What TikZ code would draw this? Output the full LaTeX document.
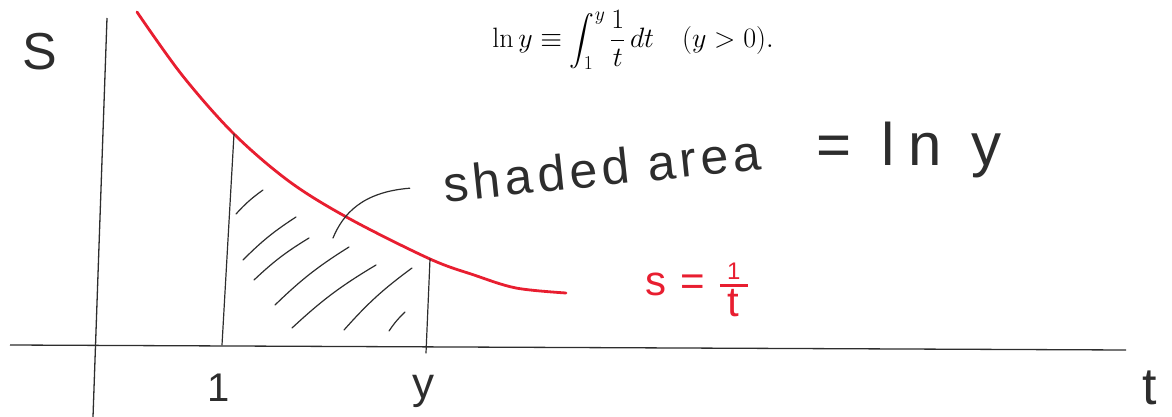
\RequirePackage{fix-cm}
\documentclass[tikz,border=0pt]{standalone}
\usepackage{exscale}
\usepackage[no-math]{fontspec}
\setmainfont{Liberation Sans}
\definecolor{penred}{RGB}{232,30,48}
\definecolor{penblack}{RGB}{45,45,45}
\tikzset{
  axis/.style={draw=penblack,line width=1.3pt},
  hatch/.style={draw=penblack,line width=1.2pt,line cap=round},
  curve/.style={draw=penred,line width=2.8pt,line cap=round},
  hand/.style={text=penblack,inner sep=0pt}
}
\begin{document}
\begin{tikzpicture}[x=1pt,y=-1pt]
				\useasboundingbox (0,0) rectangle (1172,417);
				%Truc
				\coordinate (sTop) at (107,18);
				\coordinate (sBot) at (93,417);
				\coordinate (tLeft) at (10,345);
				\coordinate (tRight) at (1126,350);
				\draw[axis] (sTop)--(sBot);
				\draw[axis] (tLeft)--(tRight);
				%Nhan truc
				\node[hand,font=\fontsize{52}{60}\selectfont] (sLabel) at (40,52) {S};
				\node[hand,font=\fontsize{52}{56}\selectfont] (tLabel) at (1150,388) {t};
				\node[hand,font=\fontsize{40}{48}\selectfont] (oneLabel) at (219,388) {1};
				\node[hand,font=\fontsize{44}{50}\selectfont] (yLabel) at (423,391) {y};
				%Cong thuc
				\node (lnDef) at (633,40) {\fontsize{28}{33}\selectfont $\displaystyle \ln y\equiv\int_1^y\frac{1}{t}\,dt\quad(y>0).$};
				%Duong cong
				\coordinate (oneTop) at (234,134);
				\coordinate (yTop) at (430,259);
				\draw[curve] plot[smooth,tension=0.55] coordinates {(137,12) (182,75) (oneTop) (290,182) (350,219) (yTop) (474,275) (516,288) (566,293)};
				\node[hand,text=penred,font=\fontsize{42}{48}\selectfont] (curveLabel) at (697,290) {s\hspace{14pt}=\hspace{14pt}${\mbox{\fontsize{24}{26}\selectfont 1}\above 3pt\makebox[28pt]{t}}$};
				%Doan thang dung
				\coordinate (oneFoot) at (222,345);
				\coordinate (yFoot) at (426,353);
				\draw[hatch] (oneTop)--(oneFoot);
				\draw[hatch] (yTop)--(yFoot);
				%Gach cheo
				\foreach \xa/\ya/\xb/\yb in {236/214/263/190, 243/260/296/217, 254/280/309/238, 275/305/349/247, 292/328/376/265, 344/330/412/268, 389/331/405/312}
					\draw[hatch] (\xa,\ya) to[bend left=6] (\xb,\yb);
				%Chu thich
				\node[hand,rotate=6,outer xsep=34pt,font=\fontsize{50}{56}\selectfont\addfontfeature{LetterSpace=9}] (areaLabel) at (602,168) {shaded area};
				\node[hand,font=\fontsize{60}{66}\selectfont\addfontfeature{LetterSpace=22}] (lnLabel) at (909,150) {= ln y};
				\coordinate (areaPoint) at (333,238);
				\draw[hatch] (areaLabel.west) .. controls (362,192) and (343,214) .. (areaPoint);
\end{tikzpicture}
\end{document}
